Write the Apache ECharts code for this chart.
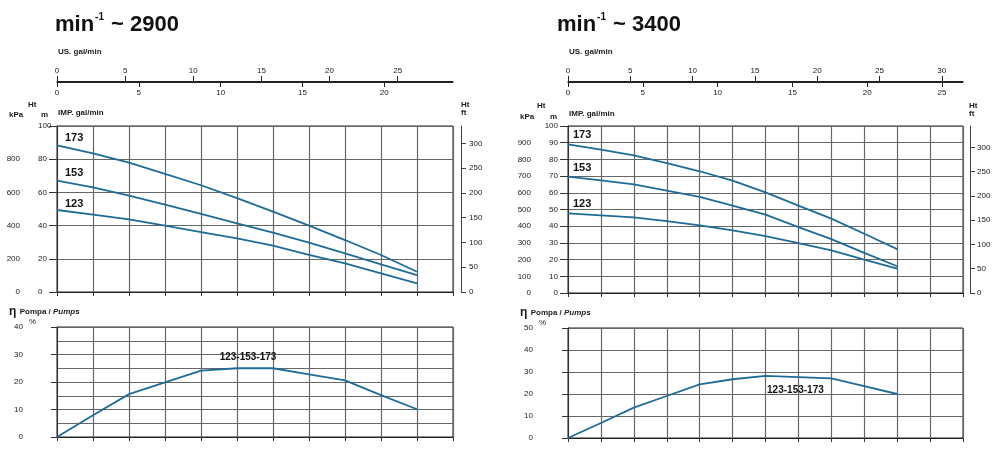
<!DOCTYPE html>
<html><head><meta charset="utf-8">
<script src="https://cdn.jsdelivr.net/npm/echarts@6/dist/echarts.min.js"></script>
<style>html,body{margin:0;padding:0;background:#fff}#c{width:1000px;height:452px}</style>
</head><body><div id="c"></div>
<script>
// ---- data (flow in l/min, head in m, efficiency in %) ----
const flowLmin = [0,10,20,30,40,50,60,70,80,90,100];
const h173_2900 = [88.4,83.5,77.9,71.1,64.3,56.6,48.4,40.0,31.3,22.3,12.2];
const h153_2900 = [67.1,63.0,58.0,52.6,47.0,41.4,35.7,29.7,23.3,16.7,10.2];
const h123_2900 = [49.4,46.6,43.8,40.0,36.1,32.3,27.9,22.3,17.3,11.2,5.2];
const eff_2900  = [0,7.9,15.6,19.9,24.1,25.0,25.0,22.8,20.6,15.2,10.1];
const h173_3400 = [89.0,85.8,82.4,77.8,72.9,67.3,60.3,52.3,44.5,35.5,26.3];
const h153_3400 = [69.7,67.5,65.1,61.3,57.5,52.3,46.9,39.5,32.3,24.0,16.0];
const h123_3400 = [47.7,46.5,45.3,43.1,40.5,37.5,34.1,29.9,25.5,20.0,14.6];
const eff_3400  = [0,6.8,13.8,19.1,24.4,26.7,28.2,27.7,27.1,23.6,20.0];
const usTicks2900  = [0,5,10,15,20,25];
const impTicks2900 = [0,5,10,15,20];
const usTicks3400  = [0,5,10,15,20,25,30];
const impTicks3400 = [0,5,10,15,20,25];
const ftTicks = [0,50,100,150,200,250,300];
const curveNames = ['173','153','123'];
const effName = '123-153-173';
const titles = ['2900','3400'];

const FONT = '"Liberation Sans", Arial, Helvetica, sans-serif';
const INK = '#1a1a1a';
const BLUE = '#1e6b98';
const GRIDC = '#666666';
const pair = ys => flowLmin.map((x,i)=>[x, ys[i]]);
const lab = (extra) => Object.assign({fontSize:8, color:INK, fontFamily:FONT}, extra||{});

const grids = [
  {left:57, top:81, width:396, height:1},
  {left:57, top:126, width:396, height:166, show:true, borderColor:'#222', borderWidth:1},
  {left:57, top:327, width:396, height:110, show:true, borderColor:'#222', borderWidth:1},
  {left:568, top:81, width:395, height:1},
  {left:568, top:126, width:395, height:167, show:true, borderColor:'#222', borderWidth:1},
  {left:568, top:328, width:395, height:110, show:true, borderColor:'#222', borderWidth:1}
];

function flowAxis(grid, pos, max, ticks, margin){
  return {type:'value', gridIndex:grid, position:pos, min:0, max:max,
    axisLine:{show:true, onZero:false, lineStyle:{color:'#222', width:1}},
    axisTick:{show:true, customValues:ticks, length:5, lineStyle:{color:'#222'}},
    axisLabel:{show:true, customValues:ticks, margin:margin, ...lab()},
    splitLine:{show:false}};
}
function lminAxis(grid, max){
  return {type:'value', gridIndex:grid, min:0, max:max, interval:10,
    axisLine:{show:true, onZero:false, lineStyle:{color:'#222'}},
    axisTick:{show:true, length:4, lineStyle:{color:'#333'}},
    axisLabel:{show:false},
    splitLine:{show:true, lineStyle:{color:GRIDC, width:1.2}}};
}

const xAxis = [
  flowAxis(0,'top',29.06,usTicks2900,6),
  flowAxis(0,'bottom',24.2,impTicks2900,7),
  lminAxis(1,110),
  lminAxis(2,110),
  flowAxis(3,'top',31.7,usTicks3400,6),
  flowAxis(3,'bottom',26.4,impTicks3400,7),
  lminAxis(4,120),
  lminAxis(5,120)
];

function hidden(grid){ return {type:'value', gridIndex:grid, show:false, min:0, max:1}; }
function mAxis(grid, interval, off, labMargin, align){
  return {type:'value', gridIndex:grid, position:'left', offset:off, min:0, max:100, interval:interval,
    axisLine:{show:true, lineStyle:{color:'#333'}},
    axisTick:{show:true, length:8, lineStyle:{color:'#333'}},
    axisLabel:{inside:true, margin:labMargin, align:align, ...lab()},
    splitLine:{show:true, lineStyle:{color:GRIDC, width:1.2}}};
}
function kpaAxis(grid, interval, off, margin){
  return {type:'value', gridIndex:grid, position:'left', offset:off, min:0, max:1000, interval:interval,
    axisLine:{show:false}, axisTick:{show:false},
    axisLabel:{margin:margin, formatter:v=> v===1000?'':String(v), ...lab()},
    splitLine:{show:false}};
}
function ftAxis(grid, max, off, margin){
  return {type:'value', gridIndex:grid, position:'right', offset:off, min:0, max:max,
    axisLine:{show:true, lineStyle:{color:'#444'}},
    axisTick:{show:true, customValues:ftTicks, length:5, lineStyle:{color:'#444'}},
    axisLabel:{customValues:ftTicks, margin:margin, ...lab()},
    splitLine:{show:false}};
}
function effAxis(grid, max, off, margin, split){
  return {type:'value', gridIndex:grid, position:'left', offset:off, min:0, max:max, interval:10,
    axisLine:{show:true, lineStyle:{color:'#333'}},
    axisTick:{show:true, length:6, lineStyle:{color:'#333'}},
    axisLabel:{margin:margin, ...lab()},
    splitLine:{show:split, lineStyle:{color:GRIDC, width:1.2}}};
}
const yAxis = [
  hidden(0),                       //0
  mAxis(1,20,24,5,'left'),         //1
  kpaAxis(1,200,24,13),            //2
  ftAxis(1,335,8,8),               //3
  effAxis(2,40,27,7,false),        //4
  {type:'value', gridIndex:2, min:0, max:40, interval:5, axisLine:{show:false}, axisTick:{show:false}, axisLabel:{show:false},
    splitLine:{show:true, lineStyle:{color:GRIDC, width:1.2}}}, //5
  hidden(3),                       //6
  mAxis(4,10,27,17,'right'),       //7
  kpaAxis(4,100,27,10),            //8
  ftAxis(4,344,7,7),               //9
  effAxis(5,50,27,8,true)          //10
];

function curve(xi, yi, ys){
  return {type:'line', xAxisIndex:xi, yAxisIndex:yi, data:pair(ys), showSymbol:false, symbol:'none',
    lineStyle:{color:BLUE, width:1.8}, silent:true, z:5};
}

const series = [
  curve(2,1,h173_2900), curve(2,1,h153_2900), curve(2,1,h123_2900),
  curve(3,4,eff_2900),
  curve(6,7,h173_3400), curve(6,7,h153_3400), curve(6,7,h123_3400),
  curve(7,10,eff_3400)
];

function txt(x, y, text, opts){
  return {type:'text', x:x, y:y, silent:true, z:10,
    style:Object.assign({text:text, fill:INK, fontFamily:FONT, fontSize:8, fontWeight:'bold',
      align:'left', verticalAlign:'middle', textAlign:'left', textVerticalAlign:'middle'}, opts||{})};
}
function titleText(x, rpm){
  return {type:'text', x:x, y:12, silent:true, z:10,
    style:{text:'{a|min}{s|-1}{a| ~ '+rpm+'}', fill:'#111', fontFamily:FONT,
      rich:{a:{fontSize:22, fontWeight:'bold', fontFamily:FONT, fill:'#111', lineHeight:24, verticalAlign:'bottom'},
            s:{fontSize:10, fontWeight:'bold', fontFamily:FONT, fill:'#111', verticalAlign:'top', padding:[0,1,0,1]}}}};
}
function etaText(x, y){
  return {type:'text', x:x, y:y, silent:true, z:10,
    style:{text:'{e|η} {b|Pompa / }{i|Pumps}', fontFamily:FONT, fill:INK, verticalAlign:'middle', textVerticalAlign:'middle',
      rich:{e:{fontSize:12, fontWeight:'bold', fill:INK, fontFamily:FONT},
            b:{fontSize:8, fontWeight:'bold', fill:INK, fontFamily:FONT},
            i:{fontSize:8, fontWeight:'bold', fontStyle:'italic', fill:INK, fontFamily:FONT}}}};
}

const graphic = [
  titleText(55, titles[0]), titleText(557, titles[1]),
  txt(58,52,'US. gal/min'), txt(569,52,'US. gal/min'),
  txt(58,113,'IMP. gal/min'), txt(569,114,'IMP. gal/min'),
  txt(28,105,'Ht'), txt(9,115,'kPa'), txt(41,115,'m'),
  txt(537,106,'Ht'), txt(520,117,'kPa'), txt(550,117,'m'),
  txt(461,105,'Ht'), txt(461,113,'ft'),
  txt(969,106,'Ht'), txt(969,114,'ft'),
  etaText(9,312), etaText(520,313),
  txt(29,322,'%',{fontWeight:'normal'}), txt(539,323,'%',{fontWeight:'normal'})
];

const chart = echarts.init(document.getElementById('c'), null, {renderer:'canvas'});
chart.setOption({animation:false, backgroundColor:'#fff', textStyle:{fontFamily:FONT},
  grid:grids, xAxis:xAxis, yAxis:yAxis, series:series, graphic:graphic});

// curve labels anchored to data points through the chart's own scales
function anchor(xi, yi, x, y){ return chart.convertToPixel({xAxisIndex:xi, yAxisIndex:yi}, [x, y]); }
const extra = [];
function nameAt(xi, yi, ys, name, dx, dy){
  const p = anchor(xi, yi, flowLmin[0], ys[0]);
  extra.push(txt(p[0]+dx, p[1]+dy, name, {fontSize:11, fill:'#111'}));
}
nameAt(2,1,h173_2900,curveNames[0],8,-7);
nameAt(2,1,h153_2900,curveNames[1],8,-8);
nameAt(2,1,h123_2900,curveNames[2],8,-6);
nameAt(6,7,h173_3400,curveNames[0],5,-9);
nameAt(6,7,h153_3400,curveNames[1],5,-9);
nameAt(6,7,h123_3400,curveNames[2],5,-9);
let p = anchor(3,4,flowLmin[5],eff_2900[5]);
extra.push(txt(p[0]+11, p[1]-11, effName, {fontSize:10, fill:'#111', align:'center', textAlign:'center'}));
p = anchor(7,10,flowLmin[7],eff_3400[7]);
extra.push(txt(p[0]-3, p[1]+13, effName, {fontSize:10, fill:'#111', align:'center', textAlign:'center'}));
chart.setOption({graphic: graphic.concat(extra)});
</script></body></html>
